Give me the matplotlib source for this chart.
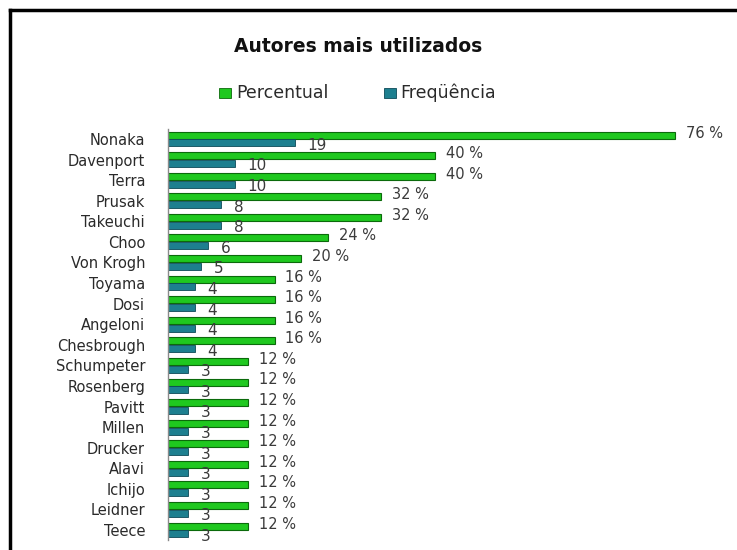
import matplotlib
matplotlib.use("Agg")
import matplotlib.pyplot as plt
from matplotlib.lines import Line2D
from matplotlib.patches import Rectangle

autores = ["Nonaka", "Davenport", "Terra", "Prusak", "Takeuchi", "Choo", "Von Krogh",
           "Toyama", "Dosi", "Angeloni", "Chesbrough", "Schumpeter", "Rosenberg",
           "Pavitt", "Millen", "Drucker", "Alavi", "Ichijo", "Leidner", "Teece"]
percentual = [76, 40, 40, 32, 32, 24, 20, 16, 16, 16, 16, 12, 12, 12, 12, 12, 12, 12, 12, 12]
frequencia = [19, 10, 10, 8, 8, 6, 5, 4, 4, 4, 4, 3, 3, 3, 3, 3, 3, 3, 3, 3]

plt.rcParams['font.family'] = ['DejaVu Sans']

W, H = 737, 550
fig = plt.figure(figsize=(W / 100, H / 100), dpi=100)

# axes geometry in pixels
left_px, right_px = 168, 735
top_px, bot_px = 128.7, 540.3
ax = fig.add_axes([left_px / W, 1 - bot_px / H, (right_px - left_px) / W, (bot_px - top_px) / H])

green = "#1fc81f"
green_edge = "#0b6a0b"
teal = "#1d7f8f"
teal_edge = "#0c4a58"

n = len(autores)
ys = list(range(n))
off = 0.19
h = 0.34
ax.barh([y - off for y in ys], percentual, height=h, color=green, edgecolor=green_edge, linewidth=0.8)
ax.barh([y + off for y in ys], frequencia, height=h, color=teal, edgecolor=teal_edge, linewidth=0.6)

for y, p, f in zip(ys, percentual, frequencia):
    ax.text(p + 1.6, y - off - 0.1, f"{p} %", ha="left", va="center", fontsize=10.5, color="#3a3a3a")
    ax.text(f + 1.9, y + off + 0.12, f"{f}", ha="left", va="center", fontsize=11, color="#3a3a3a")

ax.set_xlim(0, (right_px - left_px) / (507 / 76))
ax.set_ylim(n - 0.5, -0.5)
ax.set_yticks(ys)
ax.set_yticklabels(autores, fontsize=10.5, color="#2a2a2a")
ax.tick_params(axis="y", length=0, pad=16.5)
ax.set_xticks([])
for s in ["top", "right", "bottom"]:
    ax.spines[s].set_visible(False)
ax.spines["left"].set_color("#8a8a8a")
ax.spines["left"].set_linewidth(1.0)
ax.patch.set_alpha(0)

# title
fig.text(358 / W, 1 - 47 / H, "Autores mais utilizados", ha="center", va="center",
         fontsize=13.5, fontweight="bold", color="#111111")

# legend
ly = 1 - 93 / H
fig.patches.append(Rectangle((219 / W, ly - 5 / H), 12 / W, 10 / H, transform=fig.transFigure,
                             facecolor=green, edgecolor=green_edge, linewidth=0.6))
fig.text(236 / W, ly, "Percentual", ha="left", va="center", fontsize=12.5, color="#2a2a2a")
fig.patches.append(Rectangle((384 / W, ly - 5 / H), 12 / W, 10 / H, transform=fig.transFigure,
                             facecolor=teal, edgecolor=teal_edge, linewidth=0.6))
fig.text(400 / W, ly, "Freqüência", ha="left", va="center", fontsize=12.5, color="#2a2a2a")

# frame (top and left borders)
fig.lines.append(Line2D([9.5 / W, 1.0], [1 - 10 / H, 1 - 10 / H], transform=fig.transFigure,
                        color="black", linewidth=2.5))
fig.lines.append(Line2D([9.5 / W, 9.5 / W], [0, 1 - 10 / H], transform=fig.transFigure,
                        color="black", linewidth=2.5))

fig.savefig("out.png", dpi=100)
